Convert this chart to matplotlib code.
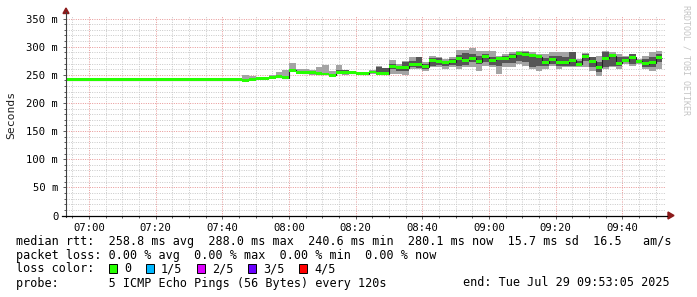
import matplotlib
matplotlib.use('Agg')
import matplotlib.pyplot as plt
from matplotlib.lines import Line2D
from matplotlib.patches import Rectangle, Polygon
import numpy as np

# ---------------- data ----------------
# 2-minute steps starting 06:52 (graph window 06:53:05 .. 09:53:05)
step_minutes = 2
first_step_offset = -65 / 60.0   # 06:52:00 relative to 06:53:05
flat_n = 27
ping_min = [240.8] * flat_n + [
    240.6, 241.5, 243.0, 243.0, 243.5, 243.5, 242.0, 256.0, 251.0, 251.0,
    250.0, 250.0, 250.0, 248.5, 251.0, 249.0, 252.0, 251.0, 251.0, 252.0,
    250.5, 249.0, 251.7, 251.7, 250.5, 260.6, 260.6, 257.6, 263.5, 264.7,
    260.6, 263.5, 260.6, 263.5, 263.5, 257.6, 266.5, 263.5, 251.7, 263.5,
    263.5, 269.4, 266.5, 260.6, 257.6, 260.6, 266.5, 260.6, 263.5, 263.5,
    263.5, 263.5, 257.6, 248.7, 260.6, 263.5, 260.6, 269.4, 266.5, 269.4,
    260.6, 257.6, 260.6]
ping_q1 = [241.0] * flat_n + [
    240.8, 242.0, 243.2, 243.3, 245.0, 245.5, 243.5, 257.0, 252.0, 252.0,
    251.0, 251.0, 251.0, 249.0, 252.5, 253.0, 253.0, 252.0, 251.5, 254.0,
    252.5, 251.5, 260.6, 257.6, 257.6, 263.5, 261.8, 260.6, 266.5, 268.2,
    266.5, 267.7, 266.5, 268.2, 272.4, 269.4, 272.0, 268.2, 266.5, 270.6,
    270.6, 275.4, 272.4, 263.5, 266.5, 266.5, 269.4, 266.5, 266.5, 266.5,
    266.0, 275.4, 263.5, 254.6, 263.5, 266.5, 266.5, 272.4, 269.0, 271.0,
    263.5, 263.5, 272.4]
median = [241.2] * flat_n + [
    240.6, 242.2, 243.5, 243.5, 245.5, 246.5, 244.5, 258.0, 254.5, 254.0,
    254.0, 252.0, 251.5, 249.5, 254.0, 254.0, 254.0, 253.0, 252.0, 255.0,
    253.0, 252.0, 264.0, 263.5, 262.6, 267.7, 268.8, 264.0, 274.8, 274.2,
    271.5, 273.6, 279.5, 276.0, 279.5, 273.6, 282.0, 276.0, 279.2, 279.5,
    282.0, 288.0, 286.6, 284.2, 282.0, 271.5, 277.4, 272.4, 271.8, 276.0,
    268.5, 282.0, 273.9, 263.5, 279.5, 284.2, 270.3, 275.4, 281.0, 273.9,
    269.4, 271.5, 280.1]
ping_q3 = [241.4] * flat_n + [
    241.5, 243.0, 244.0, 244.2, 246.5, 248.0, 247.0, 260.0, 256.0, 255.0,
    255.0, 253.5, 253.0, 251.0, 258.5, 258.0, 255.0, 254.0, 252.5, 256.0,
    264.7, 261.7, 269.4, 266.5, 272.4, 275.4, 281.3, 269.4, 280.0, 280.0,
    275.4, 278.3, 286.0, 288.4, 287.0, 284.0, 287.0, 282.4, 281.3, 284.0,
    287.0, 291.0, 290.0, 287.0, 284.0, 280.0, 284.0, 284.0, 281.3, 290.0,
    275.4, 287.0, 281.3, 272.4, 290.0, 287.0, 281.3, 281.3, 287.0, 276.5,
    278.3, 281.3, 287.0]
ping_max = [241.8] * flat_n + [
    250.5, 248.0, 246.0, 247.0, 249.0, 254.5, 259.4, 271.8, 260.6, 260.6,
    258.0, 263.5, 268.0, 257.6, 267.0, 259.0, 256.0, 255.0, 253.0, 258.0,
    265.0, 262.0, 276.5, 269.4, 274.0, 281.3, 282.0, 272.4, 284.2, 282.4,
    278.3, 281.3, 294.3, 294.3, 297.0, 293.0, 293.0, 293.0, 284.0, 287.0,
    290.0, 293.0, 293.0, 290.0, 287.0, 287.0, 290.0, 290.0, 290.0, 290.5,
    278.3, 288.4, 281.5, 284.2, 293.0, 290.0, 287.0, 284.2, 287.5, 278.3,
    284.2, 290.0, 293.0]
ping_max[9] = 245.0
ping_q3[9] = 241.6

tick_labels = ["07:00", "07:20", "07:40", "08:00", "08:20", "08:40",
               "09:00", "09:20", "09:40"]
first_tick_offset = 6 + 55 / 60.0   # 07:00:00 relative to 06:53:05
y_ticks = [0, 50, 100, 150, 200, 250, 300, 350]
y_tick_labels = ["0", "50 m", "100 m", "150 m", "200 m", "250 m", "300 m", "350 m"]

loss_labels = ["0", "1/5", "2/5", "3/5", "4/5"]
loss_colors = ["#26ff00", "#00b8ff", "#dd00ff", "#6a00ff", "#ff0000"]

legend_line1 = "median rtt:  258.8 ms avg  288.0 ms max  240.6 ms min  280.1 ms now  15.7 ms sd  16.5   am/s"
legend_line2 = "packet loss: 0.00 % avg  0.00 % max  0.00 % min  0.00 % now"
legend_line3 = "loss color:"
legend_line4 = "probe:       5 ICMP Echo Pings (56 Bytes) every 120s"
end_text = "end: Tue Jul 29 09:53:05 2025"

# ---------------- figure ----------------
W, H = 697, 297
fig = plt.figure(figsize=(W / 100, H / 100), dpi=100)
fig.patch.set_facecolor('white')


def fx(px):
    return px / W


def fy(py):
    return 1 - py / H


MONO = 'DejaVu Sans Mono'
ax_bottom_px = 215.5
ax = fig.add_axes([fx(66), fy(ax_bottom_px), 600 / W, 200 / H])
ax.set_xlim(0, 180)
ax.set_ylim(0, 355.4)
ax.set_facecolor('white')
for s in ax.spines.values():
    s.set_visible(False)

n = len(median)
edges = first_step_offset + step_minutes * np.arange(n + 1)
med = np.array(median)
pmin, pq1, pq3, pmax = map(np.array, (ping_min, ping_q1, ping_q3, ping_max))

ax.stairs(pmax, edges, baseline=pmin, fill=True, color='#a4a4a4', lw=0, zorder=3)
ax.stairs(pq3, edges, baseline=pq1, fill=True, color='#555555', lw=0, zorder=4)
ax.stairs(med, edges, baseline=None, color='#202020', lw=0.8, zorder=5)
w = 2.6
ax.stairs(med + w, edges, baseline=med - w, fill=True, color=loss_colors[0], lw=0, zorder=6)

# ticks and grid
major_x = first_tick_offset + 20 * np.arange(len(tick_labels))
ax.set_xticks(major_x)
ax.set_xticklabels(tick_labels, fontfamily=MONO, fontsize=7.6)
ax.set_xticks(np.arange(first_tick_offset - 5, 180, 5), minor=True)
ax.set_yticks(y_ticks)
ax.set_yticklabels(y_tick_labels, fontfamily=MONO, fontsize=7.6)
ax.set_yticks(np.arange(0, 355, 10), minor=True)

dot = (0, (1.0, 1.4))
ax.grid(which='minor', color='#c8c8c8', lw=0.7, linestyle=dot, zorder=1)
ax.grid(which='major', color='#e89494', lw=0.7, linestyle=dot, zorder=2)
ax.set_axisbelow(True)
ax.tick_params(axis='x', which='both', length=2, width=0.6, color='#404040', pad=3.5)
ax.tick_params(axis='y', which='both', length=2, width=0.6, color='#404040', pad=3.5)
ax.tick_params(which='minor', length=1.5)

# axis lines and arrows
fig.add_artist(Line2D([fx(66), fx(66)], [fy(217), fy(12)], color='#404040', lw=0.8))
fig.add_artist(Line2D([fx(62), fx(667)], [fy(ax_bottom_px), fy(ax_bottom_px)], color='black', lw=0.9))
fig.add_artist(Polygon([[fx(63), fy(13.5)], [fx(69), fy(13.5)], [fx(66), fy(8)]],
                       closed=True, color='#8b1a1a', transform=fig.transFigure))
fig.add_artist(Polygon([[fx(668), fy(ax_bottom_px - 3.5)], [fx(668), fy(ax_bottom_px + 3.5)],
                        [fx(674), fy(ax_bottom_px)]],
                       closed=True, color='#8b1a1a', transform=fig.transFigure))

# labels
fig.text(fx(11), fy(115), "Seconds", rotation=90, ha='center', va='center',
         fontfamily=MONO, fontsize=8.2, color='#202020')
fig.text(fx(686), fy(5), "RRDTOOL / TOBI OETIKER", rotation=270, ha='center', va='top',
         fontfamily=MONO, fontsize=6.0, color='#c4c4c4')

LS = 8.45
fig.text(fx(16), fy(241), legend_line1, ha='left', va='center', fontfamily=MONO, fontsize=LS)
fig.text(fx(16), fy(255), legend_line2, ha='left', va='center', fontfamily=MONO, fontsize=LS)
fig.text(fx(16), fy(268.5), legend_line3, ha='left', va='center', fontfamily=MONO, fontsize=LS)
fig.text(fx(16), fy(283), legend_line4, ha='left', va='center', fontfamily=MONO, fontsize=LS)
fig.text(fx(670), fy(283), end_text, ha='right', va='center', fontfamily=MONO, fontsize=LS)

xpos = 109.0
for lab, col in zip(loss_labels, loss_colors):
    fig.add_artist(Rectangle((fx(xpos), fy(273)), 8 / W, 9 / H, facecolor=col,
                             edgecolor='black', lw=0.7, transform=fig.transFigure))
    fig.text(fx(xpos + 15), fy(268.5), lab, ha='left', va='center', fontfamily=MONO, fontsize=LS)
    xpos += 15 + len(lab) * 7.1 + 14.8

fig.savefig('out.png', dpi=100, facecolor='white')
